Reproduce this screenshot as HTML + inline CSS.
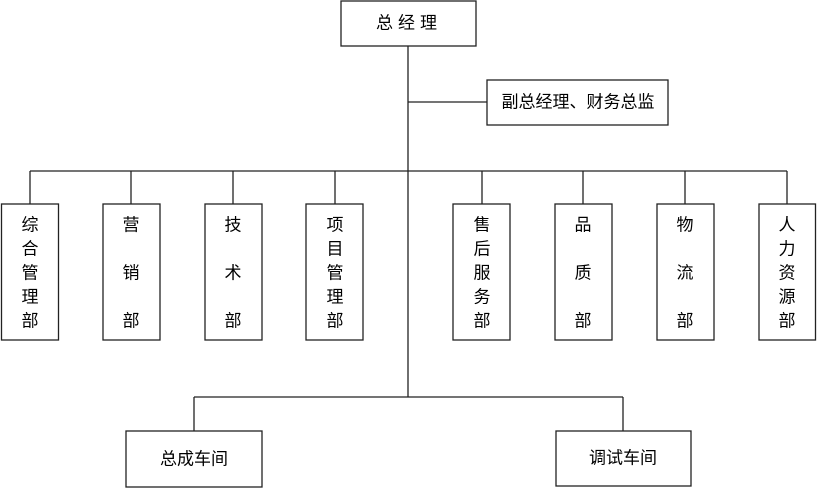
<!DOCTYPE html>
<html><head><meta charset="utf-8"><style>
html,body{margin:0;padding:0;background:#fff;}
svg{display:block;}
text{font-family:"Liberation Sans","Noto Sans CJK SC","WenQuanYi Zen Hei",sans-serif;font-size:17px;fill:#000;text-anchor:middle;dominant-baseline:central;}
</style></head><body>
<svg width="817" height="490" viewBox="0 0 817 490" xmlns="http://www.w3.org/2000/svg">
<g stroke="#222" stroke-width="1.3" fill="none">
<line x1="408" y1="46" x2="408" y2="397"/>
<line x1="408" y1="102" x2="487" y2="102"/>
<line x1="30" y1="171" x2="787" y2="171"/>
<line x1="30" y1="171" x2="30" y2="204"/>
<line x1="131" y1="171" x2="131" y2="204"/>
<line x1="233" y1="171" x2="233" y2="204"/>
<line x1="335" y1="171" x2="335" y2="204"/>
<line x1="482" y1="171" x2="482" y2="204"/>
<line x1="583" y1="171" x2="583" y2="204"/>
<line x1="685" y1="171" x2="685" y2="204"/>
<line x1="787" y1="171" x2="787" y2="204"/>
<line x1="194" y1="397" x2="623" y2="397"/>
<line x1="194" y1="397" x2="194" y2="431"/>
<line x1="623" y1="397" x2="623" y2="431"/>
<rect x="341" y="1" width="135" height="45"/>
<rect x="487" y="80" width="181" height="45"/>
<rect x="1.5" y="204" width="57" height="136"/>
<rect x="103" y="204" width="57" height="136"/>
<rect x="205" y="204" width="57" height="136"/>
<rect x="306" y="204" width="57" height="136"/>
<rect x="453" y="204" width="57" height="136"/>
<rect x="555" y="204" width="57" height="136"/>
<rect x="657" y="204" width="57" height="136"/>
<rect x="759" y="204" width="56.5" height="136"/>
<rect x="126" y="431" width="136" height="56"/>
<rect x="556" y="431" width="135" height="55"/>
</g>
<text x="409" y="23" style="letter-spacing:5px">总经理</text>
<text x="578" y="102">副总经理、财务总监</text>
<g>
<text x="30" y="225">综</text><text x="30" y="249">合</text><text x="30" y="273">管</text><text x="30" y="297">理</text><text x="30" y="321">部</text>
<text x="131" y="225">营</text><text x="131" y="273">销</text><text x="131" y="321">部</text>
<text x="233" y="225">技</text><text x="233" y="273">术</text><text x="233" y="321">部</text>
<text x="335" y="225">项</text><text x="335" y="249">目</text><text x="335" y="273">管</text><text x="335" y="297">理</text><text x="335" y="321">部</text>
<text x="482" y="225">售</text><text x="482" y="249">后</text><text x="482" y="273">服</text><text x="482" y="297">务</text><text x="482" y="321">部</text>
<text x="583" y="225">品</text><text x="583" y="273">质</text><text x="583" y="321">部</text>
<text x="685" y="225">物</text><text x="685" y="273">流</text><text x="685" y="321">部</text>
<text x="787" y="225">人</text><text x="787" y="249">力</text><text x="787" y="273">资</text><text x="787" y="297">源</text><text x="787" y="321">部</text>
</g>
<text x="194" y="459">总成车间</text>
<text x="623" y="458">调试车间</text>
</svg>
</body></html>
